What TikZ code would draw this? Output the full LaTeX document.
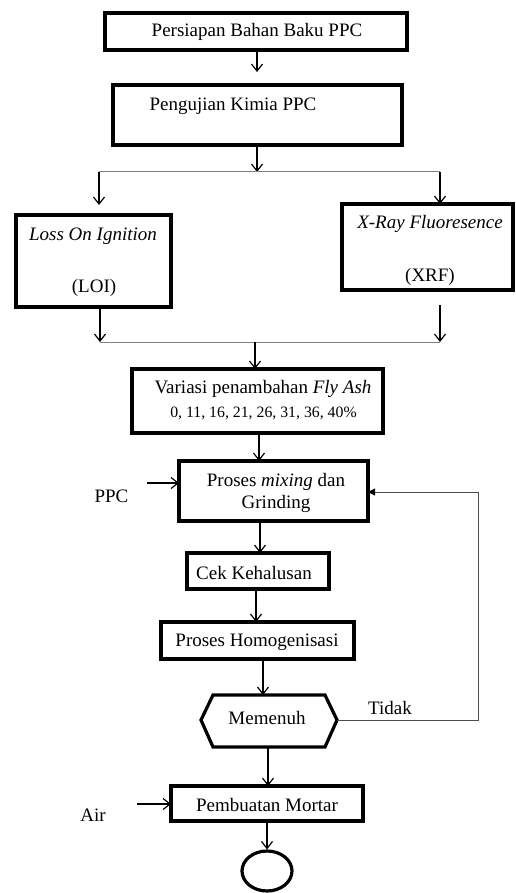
\documentclass[tikz,border=0pt]{standalone}
\usepackage{fontspec}
\setmainfont{Liberation Serif}
\usetikzlibrary{arrows.meta,shapes.geometric}
\tikzset{
  pbox/.style={draw, line width=3.2pt, inner sep=0pt, outer sep=0pt},
  txt/.style={font=\fontsize{19}{22}\selectfont, inner sep=0pt},
  smalltxt/.style={font=\fontsize{15.8}{18}\selectfont, inner sep=0pt},
  arr/.style={draw, line width=1.2pt, -{Straight Barb[length=7pt,width=11pt,line width=1.2pt]}},
  thinline/.style={draw=gray, line width=1pt},
  fbarr/.style={draw=black!70, line width=1pt, -{Triangle[length=7pt,width=7pt,color=black]}}
}
\begin{document}
\begin{tikzpicture}[x=1pt,y=-1pt]
\useasboundingbox (0,0) rectangle (515,893);
% boxes
\node[pbox, minimum width=302pt, minimum height=37pt] (b1) at (256,31.5) {};
\node[txt] (t1) at (257,32) {Persiapan Bahan Baku PPC};
\node[pbox, minimum width=289pt, minimum height=60pt] (b2) at (257.5,115) {};
\node[txt] (t2) at (233,106) {Pengujian Kimia PPC};
\node[pbox, minimum width=155pt, minimum height=92pt] (loi) at (93.5,261) {};
\node[txt] (tloi1) at (93,236) {\itshape Loss On Ignition};
\node[txt] (tloi2) at (94,288) {(LOI)};
\node[pbox, minimum width=171pt, minimum height=86pt] (xrf) at (427.5,247) {};
\node[txt] (txrf1) at (430,224) {\itshape X-Ray Fluoresence};
\node[txt] (txrf2) at (430,277) {(XRF)};
\node[pbox, minimum width=251pt, minimum height=64pt] (var) at (257.5,401) {};
\node[txt] (tvar1) at (263,389) {Variasi penambahan \textit{Fly Ash}};
\node[smalltxt] (tvar2) at (263.5,413) {0, 11, 16, 21, 26, 31, 36, 40\%};
\node[pbox, minimum width=189pt, minimum height=60pt] (mix) at (273.5,491) {};
\node[txt] (tmix1) at (276,482) {Proses \textit{mixing} dan};
\node[txt] (tmix2) at (276,504) {Grinding};
\node[txt] (ppc) at (111.5,496) {PPC};
\node[pbox, minimum width=142pt, minimum height=36pt] (cek) at (258,571) {};
\node[txt] (tcek) at (254,573) {Cek Kehalusan};
\node[pbox, minimum width=193pt, minimum height=37pt] (hom) at (257.5,640.5) {};
\node[txt] (thom) at (257,642) {Proses Homogenisasi};
% hexagon
\draw[line width=3.2pt, line join=miter] (201,720) -- (213,695) -- (325,695) -- (337,720) -- (325,747) -- (213,747) -- cycle;
\coordinate (hexL) at (201,720);
\coordinate (hexR) at (337,720);
\coordinate (hexT) at (268,695);
\coordinate (hexB) at (268,747);
\node[txt] (mem) at (267,718) {Memenuh};
\node[txt] (tidak) at (390,708) {Tidak};
\node[pbox, minimum width=192pt, minimum height=35pt] (mor) at (267,803.5) {};
\node[txt] (tmor) at (267,805) {Pembuatan Mortar};
\node[txt] (air) at (93,815) {Air};
\node[draw, line width=3.2pt, ellipse, minimum width=50pt, minimum height=40pt, inner sep=0pt] (end) at (267,871) {};
% coordinates
\coordinate (a1) at (257,72);
\coordinate (j1) at (257,172);
\coordinate (j1l) at (99,172);
\coordinate (j1r) at (440,172);
\coordinate (a2l) at (99,205);
\coordinate (a2r) at (440,204);
\coordinate (s3l) at (100,307);
\coordinate (s3r) at (440,305);
\coordinate (j2l) at (100,342);
\coordinate (j2r) at (440,342);
\coordinate (j2) at (255,342);
\coordinate (ppcs) at (147,483);
\coordinate (airs) at (137,804);
\coordinate (fbr) at (478,720);
\coordinate (fbt) at (478,492);
% connectors
\draw[arr] (b1.south -| a1) -- (a1);
\draw[arr] (b2.south -| j1) -- (j1);
\draw[thinline] (j1l) -- (j1r);
\draw[arr] (j1l) -- (a2l);
\draw[arr] (j1r) -- (a2r);
\draw[arr] (loi.south -| s3l) -- (j2l);
\draw[arr] (s3r) -- (j2r);
\draw[thinline] (j2l) -- (j2r);
\draw[arr] (j2) -- (var.north -| j2);
\draw[arr] (var.south -| 259,0) -- (mix.north -| 259,0);
\draw[arr] (ppcs) -- (ppcs -| mix.west);
\draw[arr] (mix.south -| 260,0) -- (cek.north -| 260,0);
\draw[arr] (cek.south -| 256,0) -- (hom.north -| 256,0);
\draw[arr] (hom.south -| 263,0) -- (hexT -| 263,0);
\draw[fbarr] (hexR) -- (fbr) -- (fbt) -- (fbt -| mix.east);
\draw[arr] (hexB) -- (mor.north -| hexB);
\draw[arr] (airs) -- (airs -| mor.west);
\draw[arr] (mor.south -| end) -- (end.north);
\end{tikzpicture}
\end{document}
